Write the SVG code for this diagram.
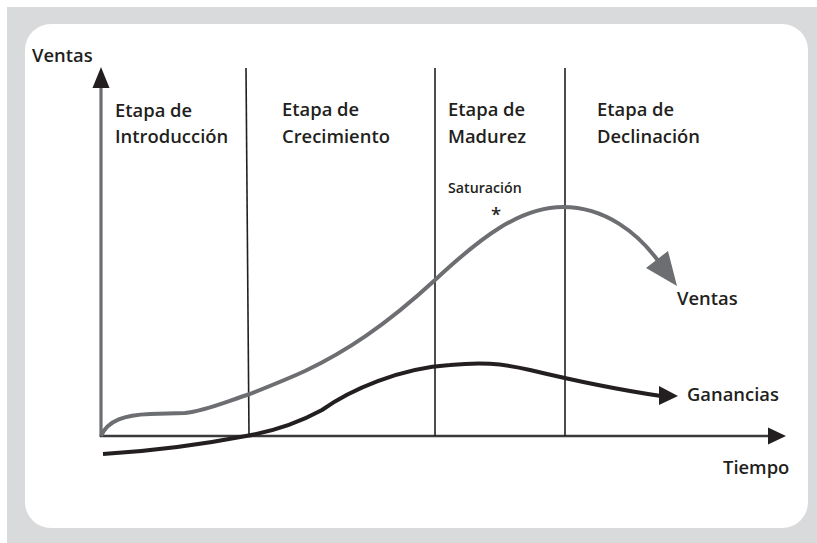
<svg xmlns="http://www.w3.org/2000/svg" width="817" height="543" viewBox="0 0 817 543">
<defs>
<style>
.t{font-family:"Open Sans","Noto Sans","DejaVu Sans",sans-serif;fill:#231f20;font-size:18.4px;font-weight:600}
.s{font-size:14.2px}
.div{stroke:#231f20;stroke-width:1.6;fill:none}
</style>
</defs>
<rect x="0" y="0" width="817" height="543" fill="#ffffff"/>
<rect x="7" y="7" width="810" height="536" fill="#d9dadc"/>
<rect x="25" y="24" width="783" height="504" rx="26" ry="26" fill="#ffffff"/>

<g id="axes">
<line x1="101" y1="437" x2="101" y2="84" stroke="#6d6e71" stroke-width="3.2"/>
<polygon points="101,67 92.5,88 109.5,88" fill="#231f20"/>
<line x1="100" y1="436" x2="770" y2="436" stroke="#3a3a3c" stroke-width="2.6"/>
<polygon points="786,436 768,427.5 768,444.5" fill="#231f20"/>
<text class="t" x="32" y="62">Ventas</text>
<text class="t" x="723" y="474">Tiempo</text>
</g>

<g id="dividers">
<line class="div" x1="246" y1="68" x2="249" y2="436"/>
<line class="div" x1="435" y1="68" x2="435" y2="436"/>
<line class="div" x1="565" y1="68" x2="565" y2="436"/>
</g>

<g id="stage-intro">
<text class="t" x="115" y="117">Etapa de</text>
<text class="t" x="115" y="143">Introducción</text>
</g>
<g id="stage-crec">
<text class="t" x="282" y="116">Etapa de</text>
<text class="t" x="282" y="143">Crecimiento</text>
</g>
<g id="stage-mad">
<text class="t" x="448" y="116">Etapa de</text>
<text class="t" x="448" y="143">Madurez</text>
<text class="t s" x="448" y="193">Saturación</text>
<text class="t" x="496" y="221" text-anchor="middle" font-size="16">*</text>
</g>
<g id="stage-decl">
<text class="t" x="597" y="116">Etapa de</text>
<text class="t" x="597" y="143">Declinación</text>
</g>

<g id="connectors">
<g id="ventas-curve">
<path d="M101,436 C108,420 125,415 150,414 L185,413 C205,411 225,402 250,394 C275,384 290,378 305,371 C345,352 385,326 435,280 C480,238 520,207 563,207 C605,207 638,233 659,262" fill="none" stroke="#6d6e71" stroke-width="4"/>
<polygon points="677,286 646,268 668,251" fill="#6d6e71"/>
</g>
<g id="ganancias-curve">
<path d="M103,454 C170,450 215,442 246,436 C275,431 300,422 322,410 C350,390 400,368 450,365 C480,362 500,363 530,370 C580,382 620,390 661,396" fill="none" stroke="#231f20" stroke-width="4"/>
<polygon points="678,396 659,386 659,405" fill="#231f20"/>
</g>
</g>

<g id="labels">
<text class="t" x="677" y="305">Ventas</text>
<text class="t" x="687" y="401">Ganancias</text>
</g>
</svg>
